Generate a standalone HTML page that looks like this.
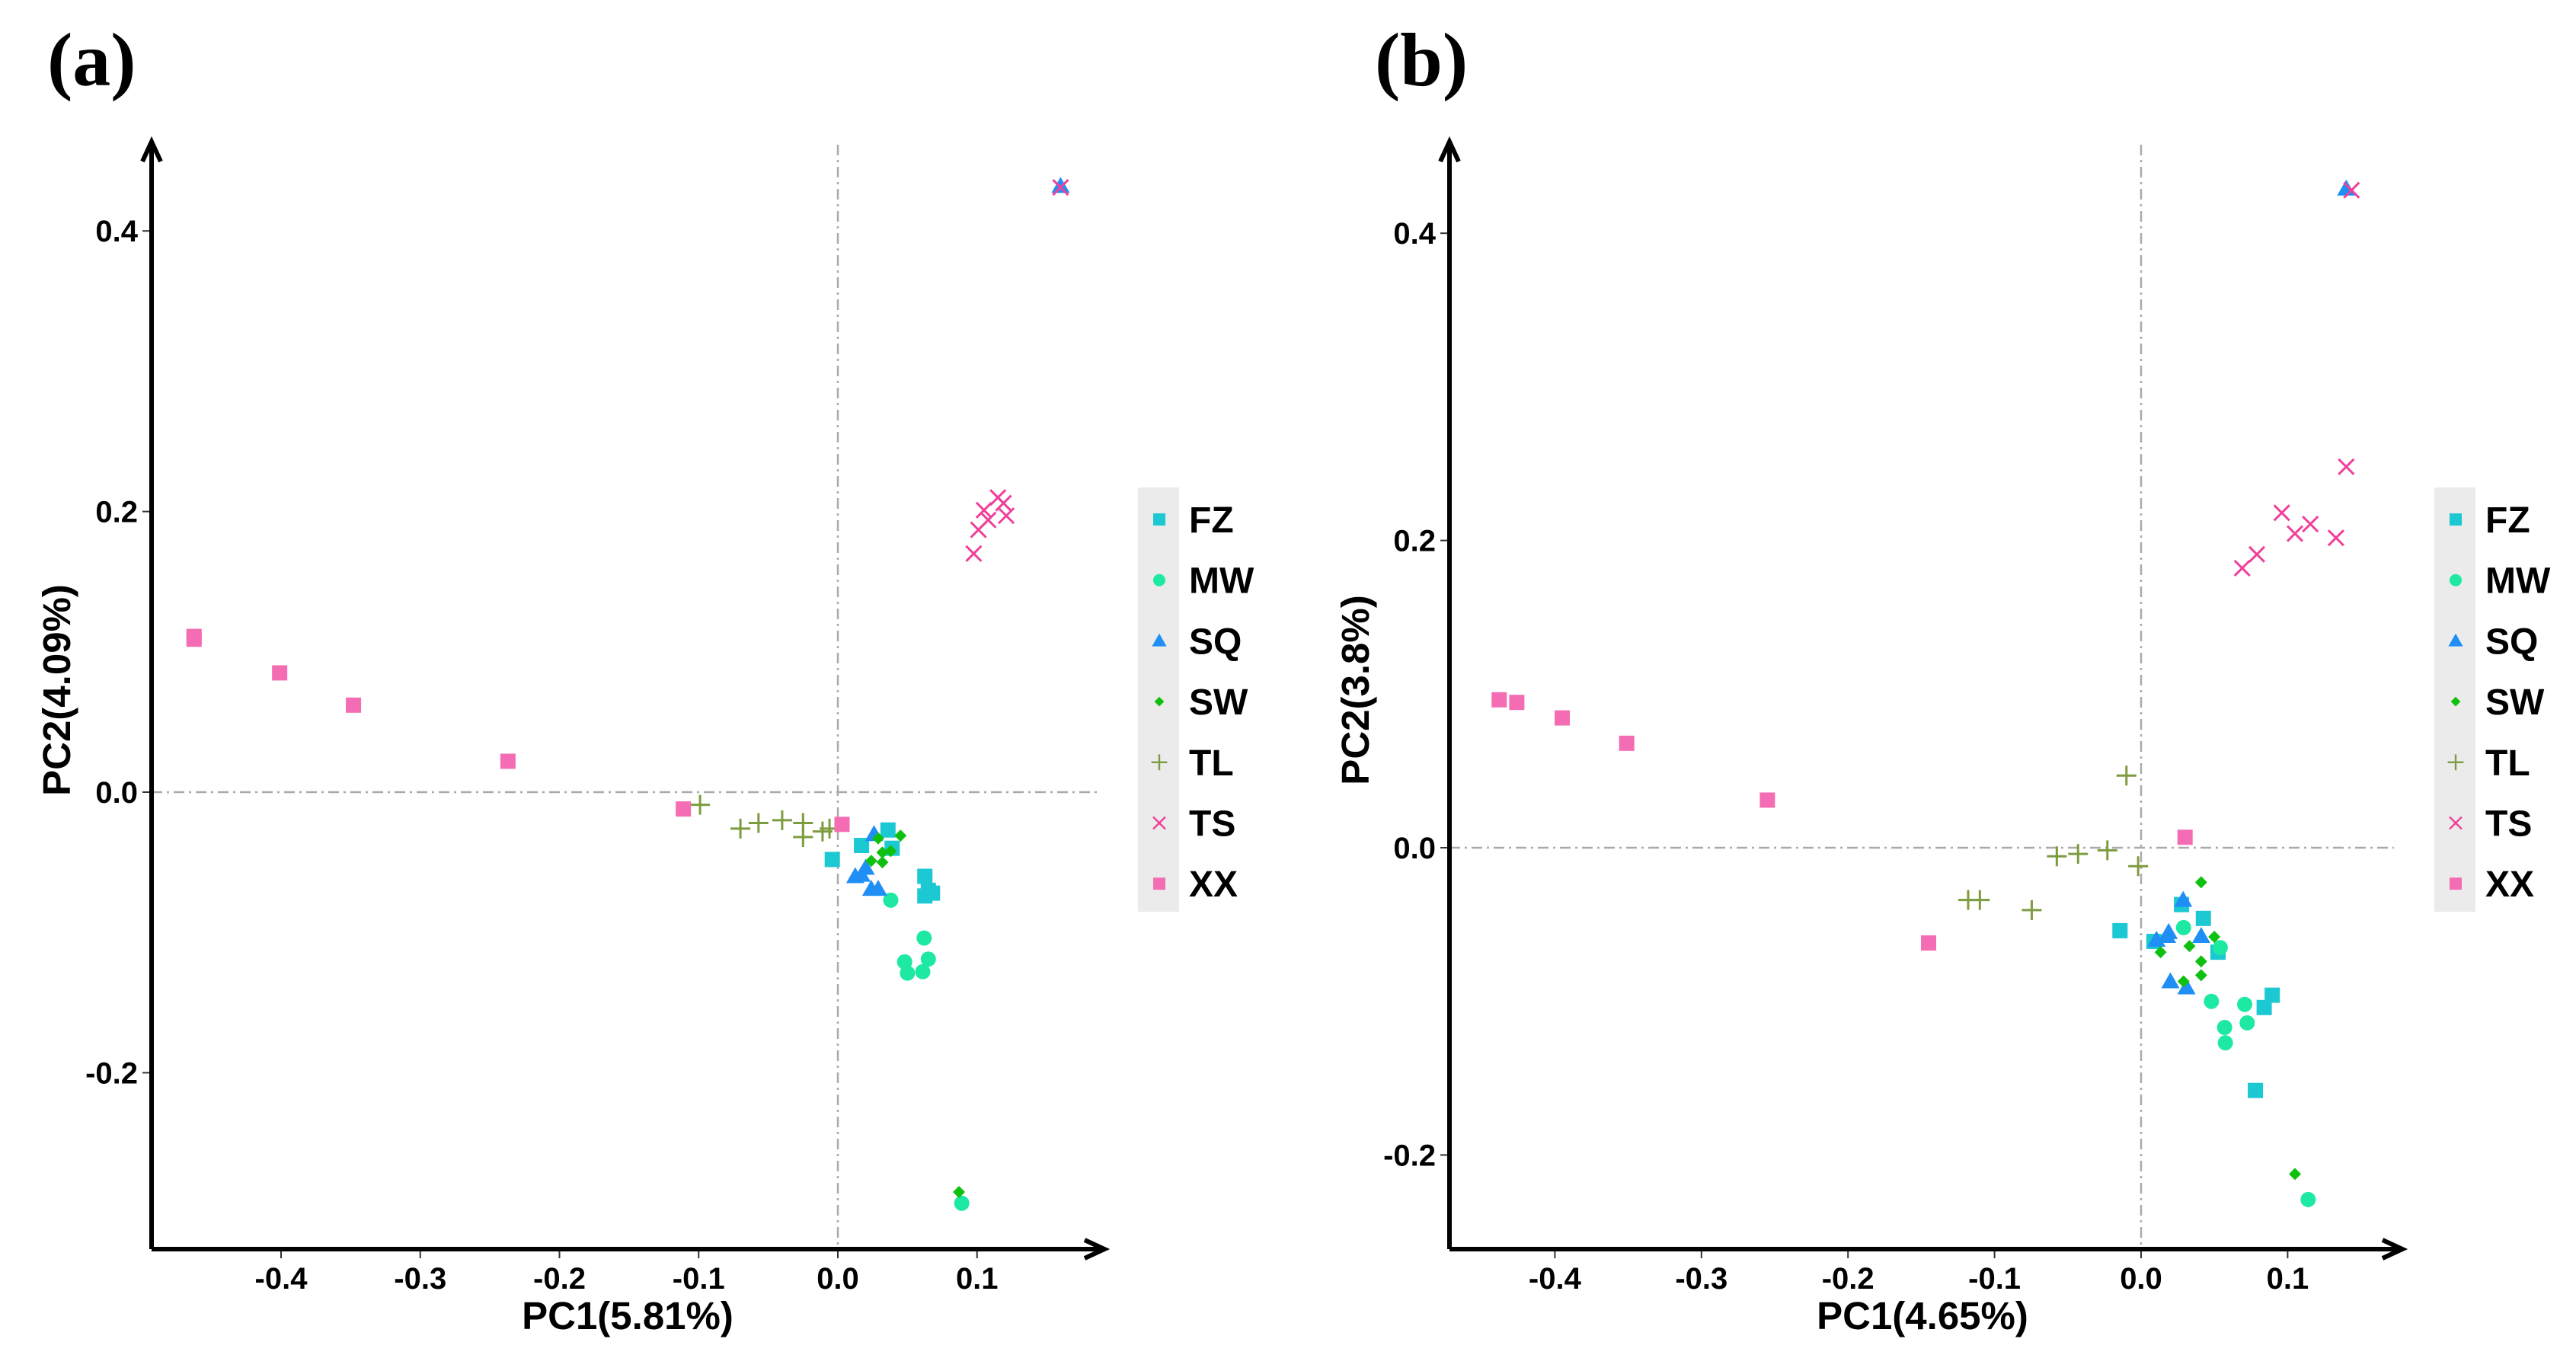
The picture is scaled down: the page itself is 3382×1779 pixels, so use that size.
<!DOCTYPE html>
<html><head><meta charset="utf-8">
<style>
html,body{margin:0;padding:0;background:#fff;}
svg{display:block;font-family:"Liberation Sans",sans-serif;}
</style></head>
<body>
<svg id="chart" width="3382" height="1779" viewBox="0 0 3382 1779" xmlns="http://www.w3.org/2000/svg"></svg>
<script>
// ---------- data ----------
const groups = ["FZ","MW","SQ","SW","TL","TS","XX"];
const ticksX = [-0.4,-0.3,-0.2,-0.1,0.0,0.1];
const ticksY = [-0.2,0.0,0.2,0.4];
const tickLabelsX = ["-0.4","-0.3","-0.2","-0.1","0.0","0.1"];
const tickLabelsY = ["-0.2","0.0","0.2","0.4"];

// Panel a
const aFZx=[-0.004,0.017,0.036,0.039,0.0625,0.065,0.0625,0.068];
const aFZy=[-0.048,-0.038,-0.027,-0.040,-0.060,-0.070,-0.074,-0.072];
const aMWx=[0.038,0.062,0.065,0.048,0.050,0.061,0.089];
const aMWy=[-0.077,-0.104,-0.119,-0.121,-0.129,-0.128,-0.293];
const aSQx=[0.160,0.026,0.0125,0.017,0.020,0.024,0.029];
const aSQy=[0.432,-0.030,-0.060,-0.059,-0.054,-0.069,-0.069];
const aSWx=[0.029,0.045,0.038,0.032,0.024,0.032,0.087];
const aSWy=[-0.033,-0.031,-0.042,-0.043,-0.049,-0.050,-0.285];
const aTLx=[-0.099,-0.070,-0.057,-0.040,-0.025,-0.025,-0.011,-0.006];
const aTLy=[-0.009,-0.026,-0.022,-0.020,-0.022,-0.032,-0.028,-0.026];
const aTSx=[0.0976,0.101,0.105,0.108,0.115,0.119,0.121,0.160];
const aTSy=[0.170,0.187,0.201,0.194,0.210,0.206,0.197,0.431];
const aXXx=[-0.4625,-0.4625,-0.401,-0.348,-0.237,-0.111,0.003];
const aXXy=[0.109,0.111,0.085,0.062,0.022,-0.012,-0.023];

// Panel b
const bFZx=[-0.0144,0.0088,0.0276,0.0425,0.0525,0.084,0.0895,0.078];
const bFZy=[-0.054,-0.061,-0.037,-0.046,-0.068,-0.104,-0.096,-0.158];
const bMWx=[0.029,0.054,0.048,0.0707,0.0724,0.057,0.0575,0.114];
const bMWy=[-0.052,-0.065,-0.100,-0.102,-0.114,-0.117,-0.127,-0.229];
const bSQx=[0.140,0.0287,0.0188,0.0177,0.041,0.020,0.031,0.0105];
const bSQy=[0.429,-0.034,-0.055,-0.0575,-0.0575,-0.087,-0.091,-0.060];
const bSWx=[0.041,0.0133,0.033,0.050,0.041,0.041,0.029,0.105];
const bSWy=[-0.0225,-0.068,-0.064,-0.058,-0.074,-0.083,-0.087,-0.2124];
const bTLx=[-0.010,-0.0575,-0.043,-0.023,-0.002,-0.118,-0.110,-0.0746];
const bTLy=[0.047,-0.0056,-0.004,-0.0017,-0.012,-0.034,-0.034,-0.0406];
const bTSx=[0.069,0.079,0.096,0.105,0.1155,0.133,0.140,0.1436];
const bTSy=[0.182,0.191,0.218,0.2045,0.2107,0.2017,0.248,0.428];
const bXXx=[-0.438,-0.426,-0.395,-0.351,-0.255,-0.145,0.030];
const bXXy=[0.0963,0.0946,0.0845,0.068,0.031,-0.062,0.0068];

// ---------- drawing ----------
const NS="http://www.w3.org/2000/svg";
const svg=document.getElementById('chart');
const colors={FZ:"#1cc8d2",MW:"#1ee9a2",SQ:"#1f8ff5",SW:"#10c010",TL:"#7d9c40",TS:"#f0409a",XX:"#f46db4"};
function mk(tag,attrs,parent){const e=document.createElementNS(NS,tag);for(const k in attrs)e.setAttribute(k,attrs[k]);(parent||svg).appendChild(e);return e;}

function marker(g,type,cx,cy,parent){
  const c=colors[type];let e;
  if(type==="FZ"||type==="XX"){e=mk('rect',{x:cx-10,y:cy-10,width:20,height:20,fill:c},parent);}
  else if(type==="MW"){e=mk('circle',{cx:cx,cy:cy,r:10,fill:c},parent);}
  else if(type==="SQ"){e=mk('polygon',{points:`${cx},${cy-12} ${cx+12},${cy+9} ${cx-12},${cy+9}`,fill:c},parent);}
  else if(type==="SW"){e=mk('polygon',{points:`${cx},${cy-8} ${cx+8},${cy} ${cx},${cy+8} ${cx-8},${cy}`,fill:c},parent);}
  else if(type==="TL"){e=mk('path',{d:`M${cx-13},${cy}H${cx+13}M${cx},${cy-13}V${cy+13}`,stroke:c,'stroke-width':3,fill:'none'},parent);}
  else {e=mk('path',{d:`M${cx-10},${cy-10}L${cx+10},${cy+10}M${cx+10},${cy-10}L${cx-10},${cy+10}`,stroke:c,'stroke-width':3,fill:'none'},parent);}
  return e;
}

function panel(p){
  const g=mk('g',{});
  
  
  const sx=v=>p.x0+v*p.kx, sy=v=>p.y0-v*p.ky;
  const lt=mk('text',{x:p.letterX,y:112,'font-family':'"Liberation Serif",serif','font-weight':'bold','font-size':100,fill:'#000'},g);
  lt.textContent='('+p.id+')';
  
  
  const rv=mk('line',{x1:sx(0),x2:sx(0),y1:190,y2:p.axY,stroke:'#aaa','stroke-width':2.5,'stroke-dasharray':'14 6 3 6'},g);
  
  
  const rh=mk('line',{x1:p.axX,x2:p.hEnd,y1:sy(0),y2:sy(0),stroke:'#aaa','stroke-width':2.5,'stroke-dasharray':'14 6 3 6'},g);
  
  
  const ya=mk('path',{d:`M${p.axX},${p.axY}V188M${p.axX-12},212L${p.axX},186L${p.axX+12},212`,stroke:'#000','stroke-width':6,fill:'none','stroke-linejoin':'miter'},g);
  
  
  const xa=mk('path',{d:`M${p.axX},${p.axY}H${p.xEnd}M${p.xEnd-26},${p.axY-12}L${p.xEnd},${p.axY}L${p.xEnd-26},${p.axY+12}`,stroke:'#000','stroke-width':6,fill:'none'},g);
  
  
  ticksX.forEach((v,i)=>{
    mk('line',{x1:sx(v),x2:sx(v),y1:p.axY+3,y2:p.axY+12,stroke:'#333','stroke-width':2},g);
    const t=mk('text',{x:sx(v),y:p.axY+52,'text-anchor':'middle','font-weight':'bold','font-size':40,fill:'#000'},g);
    t.textContent=tickLabelsX[i];
    
    
  });
  ticksY.forEach((v,i)=>{
    mk('line',{x1:p.axX-12,x2:p.axX-3,y1:sy(v),y2:sy(v),stroke:'#333','stroke-width':2},g);
    const t=mk('text',{x:p.axX-18,y:sy(v)+14,'text-anchor':'end','font-weight':'bold','font-size':40,fill:'#000'},g);
    t.textContent=tickLabelsY[i];
    
    
  });
  const xt=mk('text',{x:p.xtX,y:1745,'text-anchor':'middle','font-weight':'bold','font-size':51,fill:'#000'},g);
  xt.textContent=p.xTitle;
  
  
  const yt=mk('text',{x:0,y:0,'text-anchor':'middle','font-weight':'bold','font-size':51,fill:'#000',transform:`translate(${p.ytX},906) rotate(-90)`},g);
  yt.textContent=p.yTitle;
  
  
  groups.forEach(grp=>{
    const xs=p.data[grp][0], ys=p.data[grp][1];
    xs.forEach((xv,i)=>{
      const m=marker(null,grp,sx(xv),sy(ys[i]),g);
      
      
    });
  });
  const lg=mk('g',{},g);
  
  
  mk('rect',{x:p.legX-28,y:640,width:54,height:557,fill:'#ebebeb'},lg);
  groups.forEach((grp,i)=>{
    const cy=682+i*79.7;
    const m=marker(null,grp,p.legX,cy,lg);
    m.setAttribute('transform',`translate(${p.legX},${cy}) scale(0.8) translate(${-p.legX},${-cy})`);
    
    
    const t=mk('text',{x:p.legX+39,y:cy+17,'font-weight':'bold','font-size':48,fill:'#000'},lg);
    t.textContent=grp;
    
    
  });
}

panel({id:'a',x0:1100,kx:1827.5,y0:1040,ky:1842,axX:199,axY:1640,xEnd:1450,hEnd:1441,
  letterX:62,xtX:824,ytX:92,xTitle:'PC1(5.81%)',yTitle:'PC2(4.09%)',legX:1522,
  data:{FZ:[aFZx,aFZy],MW:[aMWx,aMWy],SQ:[aSQx,aSQy],SW:[aSWx,aSWy],TL:[aTLx,aTLy],TS:[aTSx,aTSy],XX:[aXXx,aXXy]}});
panel({id:'b',x0:2811,kx:1924,y0:1113,ky:2017,axX:1903,axY:1640,xEnd:3154,hEnd:3143,
  letterX:1805,xtX:2524,ytX:1797,xTitle:'PC1(4.65%)',yTitle:'PC2(3.8%)',legX:3224,
  data:{FZ:[bFZx,bFZy],MW:[bMWx,bMWy],SQ:[bSQx,bSQy],SW:[bSWx,bSWy],TL:[bTLx,bTLy],TS:[bTSx,bTSy],XX:[bXXx,bXXy]}});
</script>
</body></html>
